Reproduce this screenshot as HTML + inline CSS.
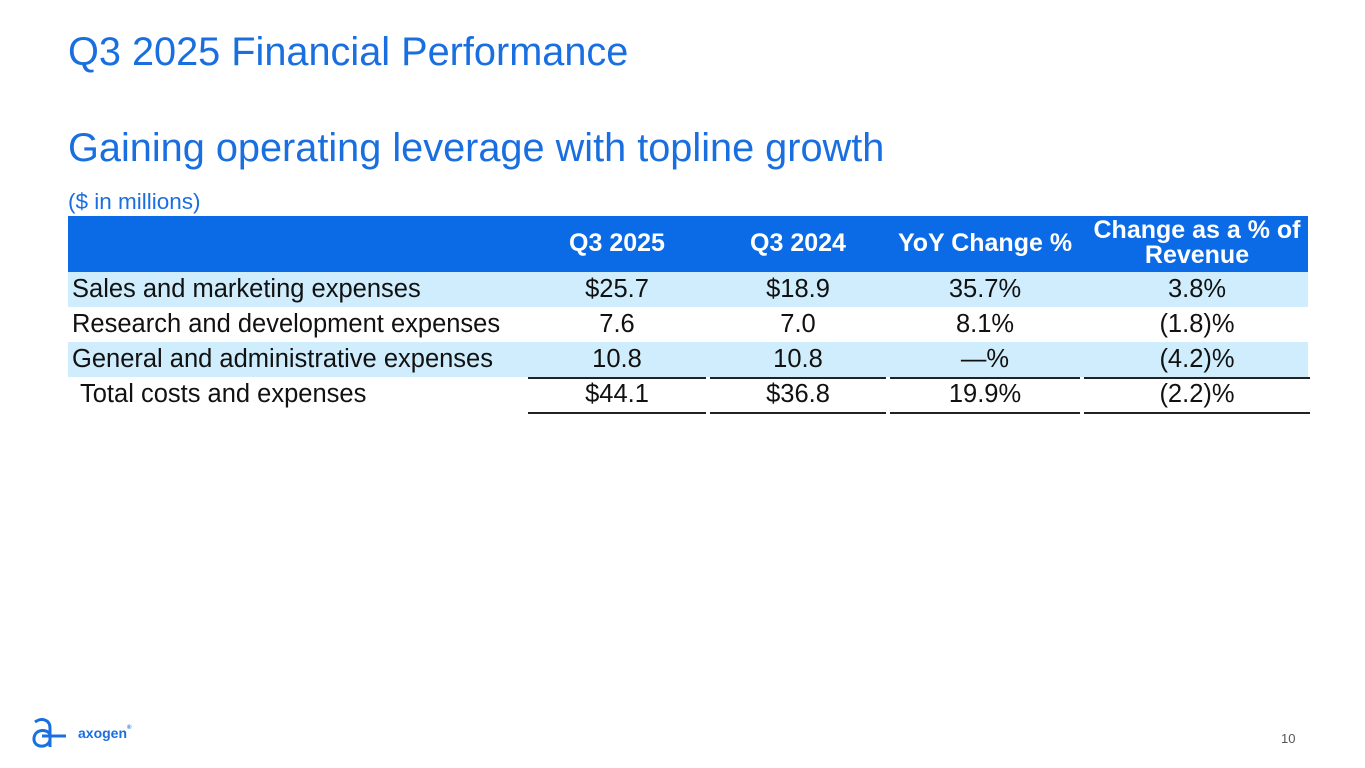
<!DOCTYPE html>
<html><head><meta charset="utf-8"><style>
body{margin:0;width:1365px;height:768px;background:#fff;position:relative;overflow:hidden;font-family:"Liberation Sans",sans-serif}
.a{position:absolute;white-space:nowrap}
.t{color:#1a6fe0}
.cell{position:absolute;text-align:center;font-size:25.5px;color:#111;line-height:35px;white-space:nowrap}
.hd{position:absolute;color:#fff;font-weight:bold;font-size:25px;text-align:center;line-height:25px;white-space:nowrap}
.ln{position:absolute;height:1.5px;background:#222}
</style></head><body>
<div class="a t" style="left:68px;top:30px;font-size:39.7px">Q3 2025 Financial Performance</div>
<div class="a t" style="left:68px;top:126px;font-size:39.7px">Gaining operating leverage with topline growth</div>
<div class="a t" style="left:68px;top:189px;font-size:22.5px">($ in millions)</div>
<div class="a" style="left:68px;top:216px;width:1240px;height:56px;background:#0b6be6"></div>
<div class="a" style="left:68px;top:272px;width:1240px;height:35px;background:#cfedfc"></div>
<div class="a" style="left:68px;top:342px;width:1240px;height:35px;background:#cfedfc"></div>
<div id="tbl"></div>
<svg class="a" style="left:30px;top:716px" width="36" height="34" viewBox="0 0 36 34"><path d="M5 6 C12 1 20 4 20 12 L20 31 M20 19 C19 13 5 12 4 22 C3 32 18 33 20 24 M12 20 L36 20" fill="none" stroke="#1a6fe0" stroke-width="3"/></svg>
<div class="a" style="left:78px;top:725px;font-size:14px;font-weight:bold;color:#1a6fe0">axogen<span style="font-size:6px;vertical-align:top">®</span></div>
<div class="a" style="left:1281px;top:731px;font-size:13px;color:#555">10</div>
<script>
const headers=["Q3 2025","Q3 2024","YoY Change %","Change as a % of<br>Revenue"];
const labels=["Sales and marketing expenses","Research and development expenses","General and administrative expenses","Total costs and expenses"];
const q3_2025=["$25.7","7.6","10.8","$44.1"];
const q3_2024=["$18.9","7.0","10.8","$36.8"];
const yoy=["35.7%","8.1%","—%","19.9%"];
const pctRev=["3.8%","(1.8)%","(4.2)%","(2.2)%"];
const cols=[[528,706],[710,886],[890,1080],[1084,1310]];
const t=document.getElementById('tbl');
headers.forEach((h,i)=>{const d=document.createElement('div');d.className='hd';


d.style.left=cols[i][0]+'px';d.style.width=(cols[i][1]-cols[i][0])+'px';
const two=h.includes('<br>');d.style.top=(two?218:231)+'px';d.innerHTML=h;t.appendChild(d);});
const data=[q3_2025,q3_2024,yoy,pctRev];
labels.forEach((l,r)=>{const y=272+r*35;
const d=document.createElement('div');d.className='cell';


d.style.left=(r==3?80:72)+'px';d.style.top=y+'px';d.style.textAlign='left';d.textContent=l;t.appendChild(d);
data.forEach((arr,c)=>{const e=document.createElement('div');e.className='cell';


e.style.left=cols[c][0]+'px';e.style.width=(cols[c][1]-cols[c][0])+'px';e.style.top=y+'px';e.textContent=arr[r];t.appendChild(e);});});
[377,412].forEach(y=>cols.forEach(c=>{const e=document.createElement('div');e.className='ln';


e.style.left=c[0]+'px';e.style.width=(c[1]-c[0])+'px';e.style.top=y+'px';t.appendChild(e);}));
</script>
</body></html>
